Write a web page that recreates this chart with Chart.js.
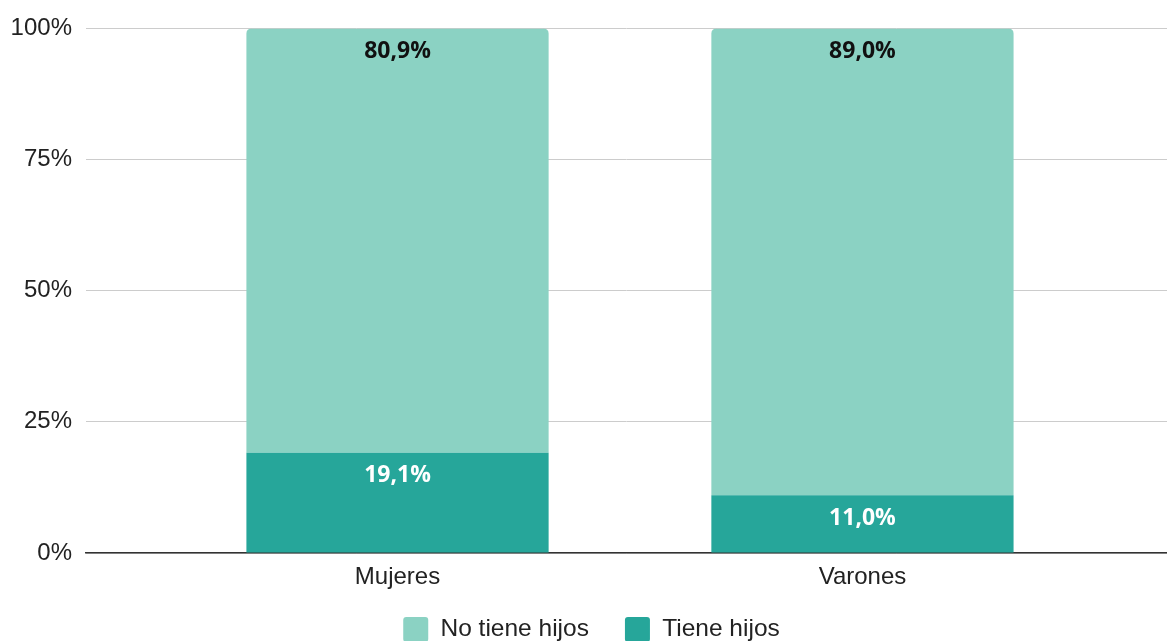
<!DOCTYPE html>
<html>
<head>
<meta charset="utf-8">
<script src="https://cdn.jsdelivr.net/npm/chart.js@4/dist/chart.umd.min.js"></script>
<style>
  html, body { margin: 0; padding: 0; background: #fff; overflow: hidden; }
  #wrap { width: 1167px; height: 660px; position: relative; }
</style>
</head>
<body>
<div id="wrap"><canvas id="c"></canvas></div>
<script>
const categories = ['Mujeres', 'Varones'];
const tieneHijos = [19.1, 11.0];
const noTieneHijos = [80.9, 89.0];
const seriesNames = ['Tiene hijos', 'No tiene hijos'];
const yTicks = [0, 25, 50, 75, 100];

const fmt = v => v.toFixed(1).replace('.', ',') + '%';
const toPoints = arr => arr.map((v, i) => ({ x: i + 1, y: v }));

const labelPlugin = {
  id: 'segLabels',
  afterDatasetsDraw(chart) {
    const ctx = chart.ctx;
    ctx.save();
    ctx.font = 'bold 23px "Open Sans", sans-serif';
    ctx.textAlign = 'center';
    ctx.textBaseline = 'middle';
    chart.data.datasets.forEach((ds, di) => {
      const meta = chart.getDatasetMeta(di);
      meta.data.forEach((bar, i) => {
        ctx.fillStyle = ds.labelColor;
        ctx.fillText(fmt(ds.data[i].y), bar.x, bar.y + 23);
      });
    });
    ctx.restore();
  }
};

const legendShift = {
  id: 'legendShift',
  afterLayout(chart) {
    const lg = chart.legend;
    if (lg) {
      lg.top -= 8;
      lg.bottom -= 8;
      lg.left += 8;
      lg.right += 8;
    }
  }
};

new Chart(document.getElementById('c'), {
  type: 'bar',
  data: {
    datasets: [
      {
        label: seriesNames[0],
        data: toPoints(tieneHijos),
        backgroundColor: '#26A69A',
        labelColor: '#ffffff',
        borderRadius: 0
      },
      {
        label: seriesNames[1],
        data: toPoints(noTieneHijos),
        backgroundColor: '#8BD2C3',
        labelColor: '#111111',
        borderRadius: { topLeft: 5, topRight: 5, bottomLeft: 0, bottomRight: 0 },
        borderSkipped: 'bottom'
      }
    ]
  },
  options: {
    responsive: true,
    maintainAspectRatio: false,
    animation: false,
    categoryPercentage: 1,
    barPercentage: 0.65,
    layout: { padding: { top: 27, right: 0, left: 0, bottom: 0 } },
    plugins: {
      tooltip: { enabled: false },
      legend: {
        position: 'bottom',
        reverse: true,
        labels: {
          boxWidth: 25,
          boxHeight: 25,
          useBorderRadius: true,
          borderRadius: 3,
          padding: 36,
          color: '#222',
          font: { family: '"Liberation Sans", Arial, sans-serif', size: 24.5 }
        }
      }
    },
    scales: {
      x: {
        type: 'linear',
        stacked: true,
        offset: false,
        min: 0.33,
        max: 2.655,
        grid: { display: false, drawTicks: false },
        border: { display: true, color: '#333', width: 1.5 },
        afterBuildTicks: s => { s.ticks = categories.map((c, i) => ({ value: i + 1 })); },
        afterFit: s => { s.height = 36; },
        ticks: {
          padding: 9.6,
          color: '#222',
          font: { family: '"Liberation Sans", Arial, sans-serif', size: 24 },
          callback: v => categories[v - 1] || ''
        }
      },
      y: {
        stacked: true,
        min: 0,
        max: 100,
        grid: { color: '#cccccc', lineWidth: 1, drawTicks: false },
        border: { display: false },
        afterBuildTicks: s => { s.ticks = yTicks.map(v => ({ value: v })); },
        afterFit: s => { s.width = 86; },
        ticks: {
          padding: 14,
          color: '#222',
          font: { family: '"Liberation Sans", Arial, sans-serif', size: 24 },
          callback: v => v + '%'
        }
      }
    }
  },
  plugins: [labelPlugin, legendShift]
});
</script>
</body>
</html>
